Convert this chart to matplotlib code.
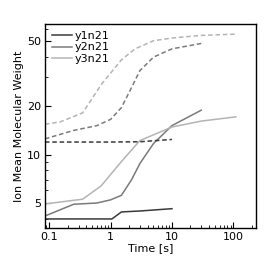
import numpy as np
import matplotlib
matplotlib.use('Agg')
import matplotlib.pyplot as plt
from matplotlib.ticker import FixedLocator, NullFormatter, LogLocator

# y1n21
t1 = [0.085, 1.05, 1.5, 3.0, 10.0]
y1_solid = [4.0, 4.0, 4.42, 4.48, 4.63]
t1d = [0.085, 1.0, 3.0, 10.0]
y1_dash = [11.95, 11.95, 12.0, 12.4]

# y2n21
t2 = [0.085, 0.25, 0.6, 1.0, 1.5, 2.2, 3.0, 5.0, 10.0, 30.0]
y2_solid = [4.17, 4.93, 5.02, 5.25, 5.6, 7.0, 8.8, 11.7, 15.1, 18.8]
y2_dash = [12.5, 14.1, 15.1, 16.5, 19.5, 26.0, 33.0, 40.0, 45.0, 48.6]

# y3n21
t3 = [0.085, 0.35, 0.7, 1.5, 3.0, 10.0, 30.0, 110.0]
y3_solid = [4.95, 5.3, 6.4, 9.05, 12.2, 14.8, 16.1, 17.1]
t3d = [0.085, 0.15, 0.35, 0.7, 1.5, 2.5, 5.0, 10.0, 30.0, 110.0]
y3_dash = [15.4, 15.9, 18.1, 27.0, 38.5, 45.0, 50.5, 52.5, 54.5, 55.5]

c1, c2, c3 = '#3a3a3a', '#7a7a7a', '#b4b4b4'

fig = plt.figure(figsize=(2.69, 2.62), dpi=100)
ax = fig.add_axes([0.167, 0.130, 0.785, 0.778])

dash = (0, (3, 1.8))
ax.plot(t1, y1_solid, color=c1, lw=1.1, label='y1n21')
ax.plot(t2, y2_solid, color=c2, lw=1.1, label='y2n21')
ax.plot(t3, y3_solid, color=c3, lw=1.1, label='y3n21')
ax.plot(t1d, y1_dash, color=c1, lw=1.1, linestyle=dash)
ax.plot(t2, y2_dash, color=c2, lw=1.1, linestyle=dash)
ax.plot(t3d, y3_dash, color=c3, lw=1.1, linestyle=dash)

ax.set_xscale('log')
ax.set_yscale('log')
ax.set_xlim(0.085, 235)
ax.set_ylim(3.52, 64)

ax.xaxis.set_major_locator(FixedLocator([0.1, 1, 10, 100]))
ax.set_xticklabels(['0.1', '1', '10', '100'])
ax.xaxis.set_minor_locator(LogLocator(base=10, subs=np.arange(2, 10)))
ax.xaxis.set_minor_formatter(NullFormatter())
ax.yaxis.set_major_locator(FixedLocator([5, 10, 20, 50]))
ax.set_yticklabels(['5', '10', '20', '50'])
ax.yaxis.set_minor_locator(LogLocator(base=10, subs=np.arange(2, 10)))
ax.yaxis.set_minor_formatter(NullFormatter())

ax.tick_params(which='both', direction='in', top=False, right=False, labelsize=8, pad=3)
ax.tick_params(which='major', length=4, width=0.8)
ax.tick_params(which='minor', length=2, width=0.6)
for s in ax.spines.values():
    s.set_linewidth(1.0)

ax.set_xlabel('Time [s]', fontsize=8, labelpad=1)
ax.set_ylabel('Ion Mean Molecular Weight', fontsize=8, labelpad=2)

ax.legend(loc='upper left', frameon=False, fontsize=8, handlelength=1.8,
          handletextpad=0.3, labelspacing=0.15, borderaxespad=0.2)

fig.savefig('out.png', dpi=100)
